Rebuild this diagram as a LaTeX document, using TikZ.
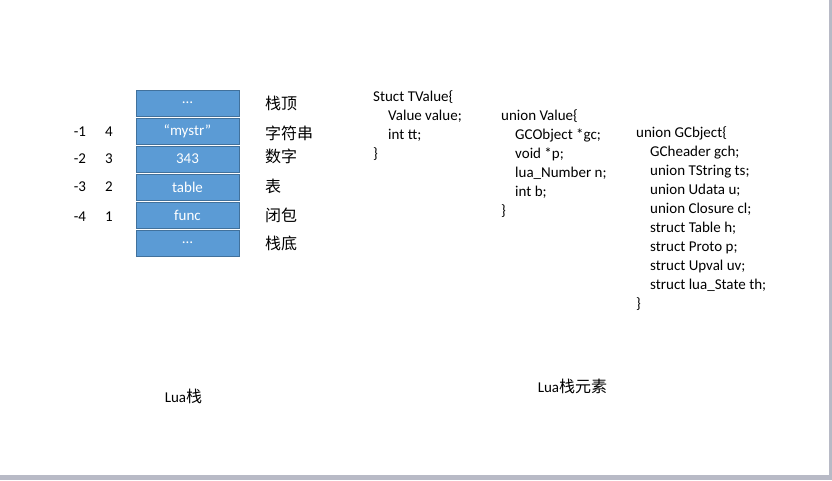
\documentclass[tikz,border=0pt]{standalone}
\usepackage{fontspec}
\setmainfont{Carlito}
\newfontfamily\cjk{Noto Sans CJK SC}
\definecolor{cellblue}{HTML}{5B9BD5}
\definecolor{cellline}{HTML}{41719C}
\definecolor{frame}{HTML}{B8BAC6}
\begin{document}
\begin{tikzpicture}[x=1pt, y=-1pt, font=\fontsize{15}{19}\selectfont,
      cell/.style={draw=cellline, line width=0.8pt, fill=cellblue, text=white, minimum width=103pt, minimum height=26pt, inner sep=0pt},
      idx/.style={inner sep=0pt},
      tag/.style={anchor=west, inner sep=0pt, font=\cjk\fontsize{16}{19}\selectfont},
      code/.style={anchor=base west, align=left, inner sep=0pt}]
    \useasboundingbox (0,0) rectangle (832,480);
    \fill[white] (0,0) rectangle (832,480);
    \fill[frame] (0,475) rectangle (832,480);
    \fill[frame] (829,0) rectangle (832,480);
    % stack cells
    \foreach \y/\nm/\txt in {103/top/{…}, 131/str/{“mystr”}, 159/num/{343}, 187/tbl/{table}, 215/fn/{func}, 243/bot/{…}} {\node[cell] (\nm) at (187.5,\y) {\txt};}
    \foreach \y/\n/\p in {132/1/4, 159/2/3, 187/3/2, 217/4/1} {
      \node[idx] (neg\n) at (80,\y) {-\n};
      \node[idx] (pos\p) at (109,\y) {\p};
    }
    \foreach \y/\nm/\txt in {103/ttop/栈顶, 133/tstr/字符串, 156/tnum/数字, 186/ttbl/表, 215/tfn/闭包, 243/tbot/栈底} {\node[tag] (\nm) at (265,\y) {\txt};}
    % stack element types (anchored at the baseline of the closing brace)
    \node[code] (tvalue) at (373,158) {Stuct TValue\{\\\hspace*{15pt}Value value;\\\hspace*{15pt}int tt;\\\}};
    \node[code] (value) at (501,215) {union Value\{\\\hspace*{14pt}GCObject *gc;\\\hspace*{14pt}void *p;\\\hspace*{14pt}lua\_Number n;\\\hspace*{14pt}int b;\\\}};
    \node[code] (gcobj) at (636,308) {union GCbject\{\\\hspace*{14pt}GCheader gch;\\\hspace*{14pt}union TString ts;\\\hspace*{14pt}union Udata u;\\\hspace*{14pt}union Closure cl;\\\hspace*{14pt}struct Table h;\\\hspace*{14pt}struct Proto p;\\\hspace*{14pt}struct Upval uv;\\\hspace*{14pt}struct lua\_State th;\\\}};
    \node (stackcap) at (183.5,396) {Lua{\cjk\fontsize{16}{19}\selectfont 栈}};
    \node (elemcap) at (572.5,386) {Lua{\cjk\fontsize{16}{19}\selectfont 栈元素}};
  \end{tikzpicture}
\end{document}
